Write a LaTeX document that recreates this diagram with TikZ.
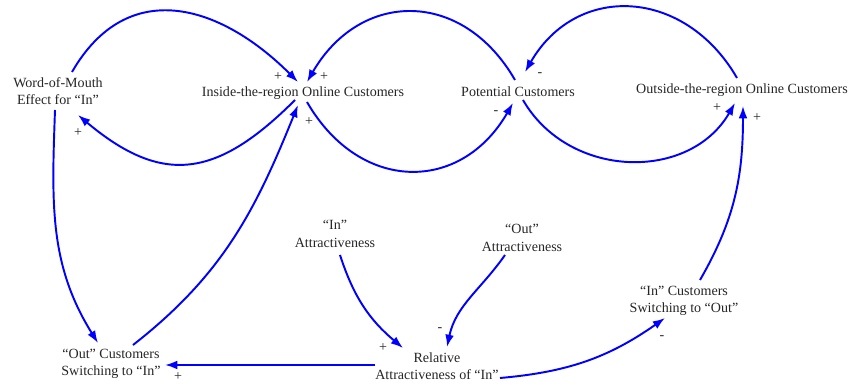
\documentclass[tikz,border=0pt]{standalone}
\usepackage{fontspec}
\setmainfont{Liberation Serif}
\usetikzlibrary{arrows.meta}

\begin{document}
\begin{tikzpicture}[x=0.02cm,y=0.02cm,
                    link/.style={-{Latex[length=7pt,width=5pt]},blue,line width=1.1pt},
                    var/.style={align=center,inner sep=1pt,text=black!85,
                                font=\fontsize{8}{10}\selectfont},
                    sgn/.style={inner sep=0pt,text=black!85,font=\fontsize{8}{8}\selectfont}]

  \useasboundingbox (0,0) rectangle (852,385);

  \node[var] (wom)      at (58,294)  {Word-of-Mouth\\Effect for ``In''};
  \node[var] (inside)   at (303,292) {Inside-the-region Online Customers};
  \node[var] (pot)      at (518,293) {Potential Customers};
  \node[var] (outside)  at (742,295) {Outside-the-region Online Customers};
  \node[var] (inattr)   at (335,151) {``In''\\Attractiveness};
  \node[var] (outattr)  at (522,147) {``Out''\\Attractiveness};
  \node[var] (rel)      at (437,19)  {Relative\\Attractiveness of ``In''};
  \node[var] (outsw)    at (111,21)  {``Out'' Customers\\Switching to ``In''};
  \node[var] (insw)     at (684,84)  {``In'' Customers\\Switching to ``Out''};

  % upper loops
  \path[link] ([shift={(14,19)}]wom.center) edge[out=60,in=135,looseness=1.25]
                  node[sgn,pos=1,shift={(-20,5)}] {+} ([shift={(-5,11)}]inside.center)
              ([shift={(-8,-7)}]inside.center) edge[out=-135,in=-40,looseness=1.3]
                  node[sgn,pos=1,shift={(0,-18)}] {+} ([shift={(20,-24)}]wom.center)
              ([shift={(-3,12)}]pot.center) edge[out=120,in=60,looseness=1.3]
                  node[sgn,pos=1,shift={(17,5)}] {+} ([shift={(4,11)}]inside.center)
              ([shift={(4,-9)}]inside.center) edge[out=-60,in=-120,looseness=1.3]
                  node[sgn,pos=1,shift={(-17,-10)}] {-} ([shift={(-5,-11)}]pot.center)
              ([shift={(-5,12)}]outside.center) edge[out=120,in=60,looseness=1.25]
                  node[sgn,pos=1,shift={(15,-3)}] {-} ([shift={(7,20)}]pot.center)
              ([shift={(5,-8)}]pot.center) edge[out=-60,in=-120,looseness=1.1]
                  node[sgn,pos=1,shift={(-18,-5)}] {+} ([shift={(-7,-13)}]outside.center);

  % switching links
  \path[link] ([shift={(16,21)}]insw.center) edge[out=60,in=-90]
                  node[sgn,pos=1,shift={(14,-12)}] {+} ([shift={(1,-16)}]outside.center)
              ([shift={(-3,-19)}]wom.center) edge[out=-92,in=122]
                  ([shift={(-13,21)}]outsw.center)
              ([shift={(22,19)}]outsw.center) edge[out=38,in=-112]
                  node[sgn,pos=1,shift={(11,-17)}] {+} ([shift={(-5,-12)}]inside.center);

  % attractiveness
  \path[link] ([shift={(5,-21)}]inattr.center) edge[out=-72,in=140]
                  node[sgn,pos=1,shift={(-20,0)}] {+} ([shift={(-34,18)}]rel.center)
              ([shift={(-17,-17)}]outattr.center) edge[out=-125,in=78]
                  node[sgn,pos=1,shift={(-7,17)}] {-} ([shift={(10,19)}]rel.center)
              ([shift={(-62,1)}]rel.center) edge
                  node[sgn,pos=1,shift={(13,-12)}] {+} ([shift={(54,-1)}]outsw.center)
              ([shift={(63,-12)}]rel.center) edge[out=5,in=-145]
                  node[sgn,pos=1,shift={(-3,-20)}] {-} ([shift={(-19,-17)}]insw.center);
\end{tikzpicture}
\end{document}
